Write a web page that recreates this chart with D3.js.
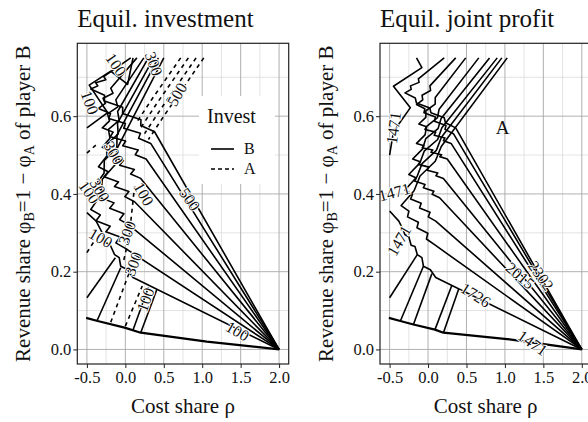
<!DOCTYPE html>
<html>
<head>
<meta charset="utf-8">
<script src="https://cdn.jsdelivr.net/npm/d3@7"></script>
<style>
body { margin: 0; background: #fff; }
text { font-family: "Liberation Serif", "DejaVu Serif", serif; fill: #111; }
</style>
</head>
<body>
<svg id="chart" width="588" height="422"></svg>
<script>
// axis breaks
var xTicks = [-0.5, 0, 0.5, 1, 1.5, 2];
var xMinor = [-0.25, 0.25, 0.75, 1.25, 1.75];
var yTicks = [0, 0.2, 0.4, 0.6];
var yMinor = [0.1, 0.3, 0.5, 0.7];

// left panel : equilibrium investment, player B (solid)
var investB = [
  [[2,0],[1.06,0.02],[0.2,0.043],[-0.01,0.056],[-0.36,0.073],[-0.51,0.081]],
  [[2,0],[0.1,0.185],[0.03,0.205],[-0.06,0.214],[-0.08,0.236],[-0.14,0.244],[-0.2,0.27],[-0.26,0.275],[-0.3,0.3],[-0.38,0.33],[-0.5,0.352]],
  [[-0.5,0.133],[-0.13,0.236]],
  [[-0.37,0.073],[-0.06,0.21]],
  [[0.1,0.05],[0.3,0.16]],
  [[0.2,0.043],[0.41,0.154]],
  [[2,0],[0.0,0.26],[-0.124,0.274],[-0.069,0.289],[-0.253,0.303],[-0.197,0.317],[-0.381,0.331],[-0.326,0.346],[-0.45,0.36],[-0.315,0.399],[-0.3,0.438],[-0.125,0.477],[-0.11,0.516],[0.5,0.75]],
  [[2,0],[0.05,0.32],[-0.074,0.334],[-0.019,0.349],[-0.203,0.363],[-0.147,0.377],[-0.331,0.391],[-0.276,0.406],[-0.4,0.42],[-0.277,0.453],[-0.274,0.486],[-0.111,0.519],[-0.108,0.552],[0.43,0.75]],
  [[2,0],[0.12,0.38],[-0.007,0.393],[0.046,0.406],[-0.141,0.419],[-0.089,0.431],[-0.276,0.444],[-0.223,0.457],[-0.35,0.47],[-0.238,0.498],[-0.246,0.526],[-0.094,0.554],[-0.102,0.582],[0.37,0.75]],
  [[2,0],[0.2,0.44],[0.069,0.451],[0.117,0.463],[-0.074,0.474],[-0.026,0.486],[-0.217,0.497],[-0.169,0.509],[-0.3,0.52],[-0.2,0.543],[-0.22,0.566],[-0.08,0.589],[-0.1,0.612],[0.3,0.75]],
  [[2,0],[0.27,0.49],[0.129,0.501],[0.167,0.513],[-0.034,0.524],[0.004,0.536],[-0.197,0.547],[-0.159,0.559],[-0.3,0.57],[-0.206,0.588],[-0.232,0.606],[-0.098,0.624],[-0.124,0.642],[0.24,0.75]],
  [[2,0],[0.33,0.53],[0.173,0.543],[0.196,0.556],[-0.021,0.569],[0.001,0.581],[-0.216,0.594],[-0.193,0.607],[-0.35,0.62],[-0.26,0.633],[-0.29,0.646],[-0.16,0.659],[-0.19,0.672],[0.15,0.75]],
  [[2,0],[0.38,0.56],[0.201,0.576],[0.203,0.591],[-0.036,0.607],[-0.034,0.623],[-0.273,0.639],[-0.271,0.654],[-0.45,0.67],[-0.358,0.678],[-0.386,0.686],[-0.254,0.694],[-0.282,0.702],[0.07,0.75]],
  [[-0.5,0.57],[-0.23,0.609],[-0.47,0.68],[-0.19,0.716],[0.03,0.682],[0.1,0.75]]
];

// left panel : equilibrium investment, player A (dashed)
var investA = [
  [[1.02,0.75],[0.5,0.6],[0.3,0.54]],
  [[0.92,0.75],[0.45,0.615],[0.25,0.555]],
  [[0.82,0.75],[0.4,0.63],[0.2,0.57]],
  [[0.72,0.75],[0.35,0.645],[0.15,0.585]],
  [[-0.5,0.505],[-0.36,0.53]],
  [[-0.5,0.249],[-0.4,0.28]],
  [[-0.19,0.07],[0.05,0.197]],
  [[0.0,0.06],[0.22,0.163]],
  [[-0.02,0.23],[0.05,0.29],[0.12,0.42]]
];

var investLabels = [
  {t:"100", x:-0.12, y:0.733, a:55},
  {t:"100", x:-0.46, y:0.635, a:70},
  {t:"300", x:0.37, y:0.735, a:70},
  {t:"500", x:0.67, y:0.656, a:-60},
  {t:"300", x:-0.15, y:0.506, a:60},
  {t:"100", x:-0.47, y:0.405, a:55},
  {t:"300", x:-0.33, y:0.41, a:60},
  {t:"100", x:0.24, y:0.4, a:60},
  {t:"500", x:0.84, y:0.386, a:55},
  {t:"100", x:-0.32, y:0.287, a:30},
  {t:"300", x:0.02, y:0.3, a:-70},
  {t:"300", x:0.1, y:0.22, a:-70},
  {t:"100", x:0.26, y:0.128, a:-70},
  {t:"100", x:1.46, y:0.047, a:30}
];

// right panel : equilibrium joint profit
var profitLines = [
  [[2,0],[1.06,0.026],[0.2,0.043],[0.09,0.051],[-0.19,0.064],[-0.36,0.073],[-0.51,0.081]],
  [[2,0],[0.1,0.185],[0.03,0.205],[-0.06,0.214],[-0.08,0.236],[-0.14,0.244],[-0.17,0.265],[-0.22,0.268],[-0.25,0.29],[-0.3,0.295],[-0.33,0.31],[-0.38,0.33],[-0.5,0.356]],
  [[-0.5,0.133],[-0.14,0.244]],
  [[-0.36,0.073],[-0.06,0.214]],
  [[-0.19,0.064],[0.05,0.195]],
  [[0.09,0.051],[0.31,0.165]],
  [[0.2,0.043],[0.4,0.156]],
  [[2,0],[0.08,0.27],[-0.021,0.284],[-0.003,0.299],[-0.144,0.313],[-0.126,0.327],[-0.267,0.341],[-0.249,0.356],[-0.35,0.37],[-0.182,0.408],[-0.104,0.446],[0.094,0.484],[0.172,0.522],[1.03,0.75]],
  [[2,0],[0.1,0.33],[0.003,0.341],[0.026,0.353],[-0.111,0.364],[-0.089,0.376],[-0.226,0.387],[-0.203,0.399],[-0.3,0.41],[-0.144,0.444],[-0.078,0.478],[0.108,0.512],[0.174,0.546],[0.96,0.75]],
  [[2,0],[0.15,0.39],[0.053,0.399],[0.076,0.407],[-0.061,0.416],[-0.039,0.424],[-0.176,0.433],[-0.153,0.441],[-0.25,0.45],[-0.105,0.48],[-0.05,0.51],[0.125,0.54],[0.18,0.57],[0.9,0.75]],
  [[2,0],[0.2,0.44],[0.103,0.447],[0.126,0.454],[-0.011,0.461],[0.011,0.469],[-0.126,0.476],[-0.103,0.483],[-0.2,0.49],[-0.07,0.516],[-0.03,0.542],[0.13,0.568],[0.17,0.594],[0.8,0.75]],
  [[2,0],[0.25,0.49],[0.153,0.496],[0.176,0.501],[0.039,0.507],[0.061,0.513],[-0.076,0.519],[-0.053,0.524],[-0.15,0.53],[-0.039,0.552],[-0.018,0.574],[0.123,0.596],[0.144,0.618],[0.66,0.75]],
  [[2,0],[0.3,0.53],[0.2,0.537],[0.22,0.544],[0.08,0.551],[0.1,0.559],[-0.04,0.566],[-0.02,0.573],[-0.12,0.58],[-0.029,0.597],[-0.028,0.614],[0.093,0.631],[0.094,0.648],[0.49,0.75]],
  [[2,0],[0.33,0.555],[0.221,0.566],[0.233,0.576],[0.084,0.587],[0.096,0.598],[-0.053,0.609],[-0.041,0.619],[-0.15,0.63],[-0.069,0.642],[-0.078,0.654],[0.033,0.666],[0.024,0.678],[0.36,0.75]],
  [[2,0],[0.36,0.57],[0.226,0.583],[0.211,0.596],[0.037,0.609],[0.023,0.621],[-0.151,0.634],[-0.166,0.647],[-0.3,0.66],[-0.219,0.669],[-0.228,0.678],[-0.117,0.687],[-0.126,0.696],[0.21,0.75]],
  [[-0.15,0.75],[-0.08,0.725],[-0.45,0.677],[-0.23,0.622],[-0.45,0.56],[-0.5,0.5]]
];

var profitLabels = [
  {t:"1471", x:-0.45, y:0.57, a:-82},
  {t:"1471", x:-0.44, y:0.405, a:-15},
  {t:"1471", x:-0.38, y:0.28, a:-60},
  {t:"1726", x:0.62, y:0.14, a:32},
  {t:"2015", x:1.2, y:0.19, a:40},
  {t:"2302", x:1.47, y:0.19, a:55},
  {t:"1471", x:1.36, y:0.017, a:35}
];

var svg = d3.select("#chart");

function drawPanel(left, title, solid, dashed, labels, id) {
    var x = d3.scaleLinear().domain([-0.625, 2.125]).range([left, left + 211.4]);
    var y = d3.scaleLinear().domain([-0.0375, 0.7875]).range([364, 43.3]);
    var g = svg.append("g");

    g.append("clipPath").attr("id", "clip" + id)
      .append("rect")
        .attr("x", x.range()[0]).attr("y", 43.3)
        .attr("width", 211.4).attr("height", 320.7);

    // grid
    g.selectAll(".minx").data(xMinor).enter().append("line")
        .attr("x1", x).attr("x2", x).attr("y1", 43.3).attr("y2", 364)
        .attr("stroke", "#dcdcdc").attr("stroke-width", 0.8);
    g.selectAll(".miny").data(yMinor).enter().append("line")
        .attr("x1", x.range()[0]).attr("x2", x.range()[1]).attr("y1", y).attr("y2", y)
        .attr("stroke", "#dcdcdc").attr("stroke-width", 0.8);
    g.selectAll(".majx").data(xTicks).enter().append("line")
        .attr("x1", x).attr("x2", x).attr("y1", 43.3).attr("y2", 364)
        .attr("stroke", "#a8a8a8").attr("stroke-width", 0.9);
    g.selectAll(".majy").data(yTicks).enter().append("line")
        .attr("x1", x.range()[0]).attr("x2", x.range()[1]).attr("y1", y).attr("y2", y)
        .attr("stroke", "#a8a8a8").attr("stroke-width", 0.9);

    var plot = g.append("g").attr("clip-path", "url(#clip" + id + ")");
    var line = d3.line().x(function(d) { return x(d[0]); }).y(function(d) { return y(d[1]); });

    plot.selectAll(".solid").data(solid).enter().append("path")
        .attr("d", line)
        .attr("fill", "none").attr("stroke", "#000")
        .attr("stroke-width", function(d, i) { return i == 0 ? 2.2 : 1.6; })
        .attr("stroke-linejoin", "round");

    plot.selectAll(".dashed").data(dashed).enter().append("path")
        .attr("d", line)
        .attr("fill", "none").attr("stroke", "#000")
        .attr("stroke-width", 1.6).attr("stroke-dasharray", "4,4");

    plot.selectAll(".lab").data(labels).enter().append("text")
        .attr("transform", function(d) { return "translate(" + x(d.x) + "," + y(d.y) + ") rotate(" + d.a + ")"; })
        .attr("text-anchor", "middle").attr("dy", "0.35em")
        .attr("font-size", 16)
        .attr("stroke", "#fff").attr("stroke-width", 2).attr("paint-order", "stroke")
        .text(function(d) { return d.t; });

    // border
    g.append("rect")
        .attr("x", x.range()[0]).attr("y", 43.3)
        .attr("width", 211.4).attr("height", 320.7)
        .attr("fill", "none").attr("stroke", "#222").attr("stroke-width", 1.2);

    var xa = g.append("g").attr("transform", "translate(0,364)")
        .call(d3.axisBottom(x).tickValues(xTicks).tickSize(4).tickPadding(3)
              .tickFormat(function(d) { return d.toFixed(1); }));
    var ya = g.append("g").attr("transform", "translate(" + x.range()[0] + ",0)")
        .call(d3.axisLeft(y).tickValues(yTicks).tickSize(4).tickPadding(2)
              .tickFormat(function(d) { return d.toFixed(1); }));
    [xa, ya].forEach(function(a) {
        a.select(".domain").remove();
        a.selectAll("text").attr("font-size", 16.5).attr("font-family", "Liberation Serif").attr("fill", "#222");
        a.selectAll("line").attr("stroke", "#222");
    });

    g.append("text").attr("x", left).attr("y", 27)
        .attr("font-size", 25).text(title);

    g.append("text").attr("x", left + 105.7).attr("y", 413)
        .attr("text-anchor", "middle").attr("font-size", 21)
        .text("Cost share \u03c1");

    var yt = g.append("text")
        .attr("transform", "translate(" + (left - 47) + ",203.7) rotate(-90)")
        .attr("text-anchor", "middle").attr("font-size", 21);
    yt.append("tspan").text("Revenue share \u03c6");
    yt.append("tspan").attr("font-size", 14).attr("dy", 4).text("B");
    yt.append("tspan").attr("dy", -4).text("=1 \u2212 \u03c6");
    yt.append("tspan").attr("font-size", 14).attr("dy", 4).text("A");
    yt.append("tspan").attr("dy", -4).text(" of player B");

    return {x: x, y: y, g: g};
}

var p1 = drawPanel(77.3, "Equil. investment", investB, investA, investLabels, 1);
var p2 = drawPanel(380, "Equil. joint profit", profitLines, [], profitLabels, 2);

// legend in left panel
var lg = p1.g.append("g");
lg.append("rect").attr("x", 199).attr("y", 96).attr("width", 76).attr("height", 88).attr("fill", "#fff");
lg.append("text").attr("x", 207).attr("y", 123).attr("font-size", 20).text("Invest");
var keys = ["B", "A"];
keys.forEach(function(k, i) {
    lg.append("line").attr("x1", 211).attr("x2", 234)
        .attr("y1", 149 + 20 * i).attr("y2", 149 + 20 * i)
        .attr("stroke", "#000").attr("stroke-width", 1.6)
        .attr("stroke-dasharray", i == 1 ? "4,3" : null);
    lg.append("text").attr("x", 244).attr("y", 154 + 20 * i).attr("font-size", 16).text(k);
});

// region label in right panel
p2.g.append("text").attr("x", p2.x(0.97)).attr("y", p2.y(0.57)).attr("dy", "0.35em")
    .attr("text-anchor", "middle").attr("font-size", 19).text("A");
</script>
</body>
</html>
